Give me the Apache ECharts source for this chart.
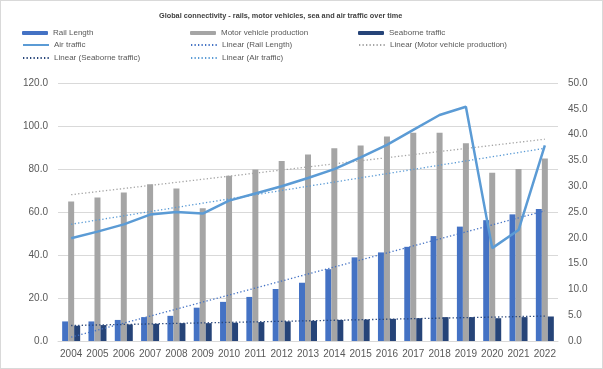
<!DOCTYPE html>
<html>
<head>
<meta charset="utf-8">
<script src="https://cdn.jsdelivr.net/npm/echarts@6/dist/echarts.min.js"></script>
<style>
html,body{margin:0;padding:0;background:#fff;}
#c{width:603px;height:369px;box-sizing:border-box;border:1px solid #d9d9d9;}
</style>
</head>
<body>
<div id="c"></div>
<script>
const years = ['2004','2005','2006','2007','2008','2009','2010','2011','2012','2013','2014','2015','2016','2017','2018','2019','2020','2021','2022'];
const railLength = [9.1,9.1,9.8,11.1,11.7,15.5,18.2,20.5,24.2,27.1,33.4,38.9,41.2,43.8,48.8,53.2,56.2,58.9,61.4];
const motorVehicles = [64.9,66.8,69.1,72.9,70.9,61.8,76.9,79.8,83.7,86.8,89.7,90.9,95.1,96.9,96.9,92.0,78.2,80.0,84.9];
const seaborne = [7.1,7.4,7.7,8.0,8.3,8.3,8.5,8.8,9.1,9.4,9.8,10.0,10.3,10.6,11.1,11.1,10.6,11.1,11.4];
const airTraffic = [19.9,21.2,22.6,24.5,25.0,24.7,27.2,28.6,30.0,31.6,33.3,35.6,38.0,40.9,43.8,45.4,18.0,21.5,37.9];
const leftTicks = {min:0, max:120, interval:20};
const rightTicks = {min:0, max:50, interval:5};

function linearTrend(arr){
  const n = arr.length;
  let sx=0, sy=0, sxy=0, sxx=0;
  arr.forEach((y,i)=>{sx+=i;sy+=y;sxy+=i*y;sxx+=i*i;});
  const b = (n*sxy - sx*sy)/(n*sxx - sx*sx);
  const a = (sy - b*sx)/n;
  return arr.map((_,i)=>+(a+b*i).toFixed(3));
}

const C_RAIL='#4472C4', C_MOTOR='#A5A5A5', C_SEA='#264478', C_AIR='#5B9BD5';
const FONT = 'Liberation Sans, Arial, sans-serif';
const txt = {color:'#595959', fontSize:8, fontFamily:FONT};

const chart = echarts.init(document.getElementById('c'), null, {renderer:'canvas'});

function lg(name, left, top, isBar){
  const o = {
    data:[name], left:left, top:top, orient:'horizontal',
    itemWidth:26, itemHeight: isBar ? 4 : 8, itemGap:0,
    padding:0, textStyle:txt, selectedMode:false
  };
  if(!isBar){ o.itemStyle = {opacity:0}; }
  return o;
}

const trendStyle = (c)=>({color:c, width:1.3, type:[1.3,2.2]});

chart.setOption({
  animation:false,
  title:{
    text:'Global connectivity - rails, motor vehicles, sea and air traffic over time',
    left:153, top:6,
    textStyle:{color:'#404040', fontSize:7.3, fontWeight:'bold', fontFamily:FONT}
  },
  legend:[
    lg('Rail Length',21,28,true),
    lg('Motor vehicle production',189,28,true),
    lg('Seaborne traffic',357,28,true),
    lg('Air traffic',21,40,false),
    lg('Linear (Rail Length)',189,40,false),
    lg('Linear (Motor vehicle production)',357,40,false),
    lg('Linear (Seaborne traffic)',21,53,false),
    lg('Linear (Air traffic)',189,53,false)
  ],
  grid:{left:57, right:44, top:82, bottom:27, containLabel:false},
  xAxis:{
    type:'category', data:years,
    axisLine:{lineStyle:{color:'#d9d9d9'}},
    axisTick:{show:false},
    axisLabel:{color:'#595959', fontSize:10, fontFamily:FONT, margin:8, interval:0, hideOverlap:false}
  },
  yAxis:[
    {type:'value', min:leftTicks.min, max:leftTicks.max, interval:leftTicks.interval,
     axisLine:{show:false}, axisTick:{show:false},
     splitLine:{lineStyle:{color:'#d9d9d9'}},
     axisLabel:{color:'#595959', fontSize:10, fontFamily:FONT, margin:10, formatter:v=>v.toFixed(1)}},
    {type:'value', min:rightTicks.min, max:rightTicks.max, interval:rightTicks.interval,
     axisLine:{show:false}, axisTick:{show:false}, splitLine:{show:false},
     axisLabel:{color:'#595959', fontSize:10, fontFamily:FONT, margin:10, formatter:v=>v.toFixed(1)}}
  ],
  series:[
    {name:'Rail Length', type:'bar', data:railLength, barWidth:6, barGap:'0%', itemStyle:{color:C_RAIL}},
    {name:'Motor vehicle production', type:'bar', data:motorVehicles, barWidth:6, barGap:'0%', itemStyle:{color:C_MOTOR}},
    {name:'Seaborne traffic', type:'bar', data:seaborne, barWidth:6, barGap:'0%', itemStyle:{color:C_SEA}},
    {name:'Air traffic', type:'line', yAxisIndex:1, data:airTraffic, symbol:'none', showSymbol:false, z:5,
     lineStyle:{color:C_AIR, width:2.5}, itemStyle:{color:C_AIR}},
    {name:'Linear (Rail Length)', type:'line', data:linearTrend(railLength), symbol:'none', showSymbol:false, z:4,
     lineStyle:trendStyle(C_RAIL), itemStyle:{color:C_RAIL}},
    {name:'Linear (Motor vehicle production)', type:'line', data:linearTrend(motorVehicles), symbol:'none', showSymbol:false, z:4,
     lineStyle:trendStyle(C_MOTOR), itemStyle:{color:C_MOTOR}},
    {name:'Linear (Seaborne traffic)', type:'line', data:linearTrend(seaborne), symbol:'none', showSymbol:false, z:4,
     lineStyle:trendStyle(C_SEA), itemStyle:{color:C_SEA}},
    {name:'Linear (Air traffic)', type:'line', yAxisIndex:1, data:linearTrend(airTraffic), symbol:'none', showSymbol:false, z:4,
     lineStyle:trendStyle(C_AIR), itemStyle:{color:C_AIR}}
  ]
});
</script>
</body>
</html>
